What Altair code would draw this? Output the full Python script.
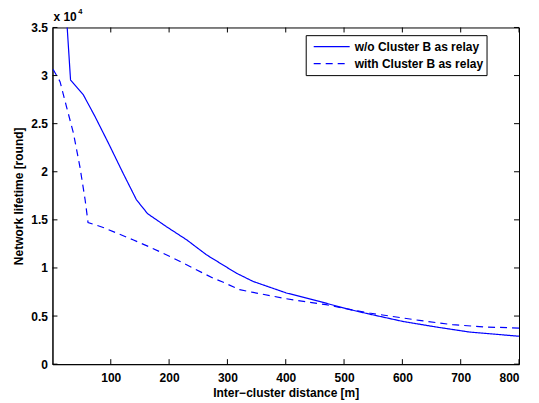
import altair as alt
import pandas as pd

# Series 1: w/o Cluster B as relay
x_solid = [20, 31, 53, 73, 96, 121, 144, 163, 195, 230, 264, 315, 344, 401, 458, 504, 543, 600, 658, 715, 800]
y_solid = [40000, 29550, 27990, 25740, 22970, 19860, 17090, 15650, 14310, 12930, 11370, 9470, 8600, 7400, 6520, 5760, 5210, 4450, 3860, 3340, 2900]

# Series 2: with Cluster B as relay
x_dash = [1, 13, 24, 36, 47, 56, 61, 87, 138, 167, 207, 275, 292, 321, 344, 401, 469, 504, 543, 629, 686, 743, 800]
y_dash = [30660, 29370, 26780, 24010, 20540, 17090, 14730, 14210, 12930, 12170, 11030, 8950, 8540, 7740, 7460, 6800, 6180, 5760, 5320, 4550, 4100, 3860, 3750]

names = ["w/o Cluster B as relay", "with Cluster B as relay"]
x_ticks = [100, 200, 300, 400, 500, 600, 700, 800]
y_ticks = [0, 5000, 10000, 15000, 20000, 25000, 30000, 35000]
exp_base = ["x 10"]
exp_power = ["4"]

W, H = 467, 337
FONT = "Liberation Sans"

rows = []
for i, (xx, yy) in enumerate(zip(x_solid, y_solid)):
    rows.append({"x": xx, "y": yy, "s": names[0], "o": i})
for i, (xx, yy) in enumerate(zip(x_dash, y_dash)):
    rows.append({"x": xx, "y": yy, "s": names[1], "o": i})
df = pd.DataFrame(rows)

xs = alt.Scale(domain=[0, 800], nice=False, zero=False)
ys = alt.Scale(domain=[0, 35000], nice=False)

leg = alt.Legend(title=None, orient="none", legendX=253.5, legendY=7.7)
lines = alt.Chart(df).mark_line(clip=True, strokeWidth=1.2).encode(
    x=alt.X("x:Q", scale=xs, axis=alt.Axis(values=x_ticks, ticks=False, grid=False,
                                           labelPadding=8, title="Inter\u2212cluster distance [m]",
                                           titlePadding=4)),
    y=alt.Y("y:Q", scale=ys, axis=alt.Axis(values=y_ticks, ticks=False, grid=False,
                                           labelExpr="datum.value / 10000", labelPadding=5,
                                           title="Network lifetime [round]", titlePadding=5)),
    color=alt.Color("s:N", scale=alt.Scale(domain=names, range=["#0000ff", "#0000ff"]), legend=leg),
    strokeDash=alt.StrokeDash("s:N", scale=alt.Scale(domain=names, range=[[1, 0], [7, 5]]), legend=leg),
    order="o:Q",
)

xt = pd.DataFrame({"x": x_ticks})
yt = pd.DataFrame({"y": y_ticks})
tick_b = alt.Chart(xt).mark_rule(color="black", strokeWidth=1).encode(
    x=alt.X("x:Q", scale=xs), y=alt.value(H), y2=alt.value(H - 5))
tick_t = alt.Chart(xt).mark_rule(color="black", strokeWidth=1).encode(
    x=alt.X("x:Q", scale=xs), y=alt.value(0), y2=alt.value(5))
tick_l = alt.Chart(yt).mark_rule(color="black", strokeWidth=1).encode(
    y=alt.Y("y:Q", scale=ys), x=alt.value(0), x2=alt.value(5))
tick_r = alt.Chart(yt).mark_rule(color="black", strokeWidth=1).encode(
    y=alt.Y("y:Q", scale=ys), x=alt.value(W), x2=alt.value(W - 5))

base_txt = alt.Chart(pd.DataFrame({"t": exp_base})).mark_text(
    font=FONT, fontSize=12, fontWeight="bold", color="black", align="left", baseline="alphabetic"
).encode(text="t:N", x=alt.value(1), y=alt.value(-6.6))
pow_txt = alt.Chart(pd.DataFrame({"t": exp_power})).mark_text(
    font=FONT, fontSize=7.5, fontWeight="bold", color="black", align="left", baseline="alphabetic"
).encode(text="t:N", x=alt.value(25.8), y=alt.value(-13.2))

chart = alt.layer(lines, tick_b, tick_t, tick_l, tick_r, base_txt, pow_txt).properties(
    width=W, height=H,
    autosize=alt.AutoSizeParams(type="none"),
    padding={"left": 44.5, "top": 19.3, "right": 12, "bottom": 40},
).configure_view(stroke="black", strokeWidth=1).configure_axis(
    domainColor="black", domainWidth=1, labelFont=FONT, labelFontSize=12, labelFontWeight="bold",
    labelColor="black", titleFont=FONT, titleFontSize=12, titleFontWeight="bold", titleColor="black",
).configure_legend(
    strokeColor="black", fillColor="white", padding=3, labelFont=FONT, labelFontSize=12,
    labelFontWeight="bold", labelColor="black", symbolType="stroke", symbolSize=1296,
    symbolStrokeWidth=1.2, symbolOffset=4, labelOffset=4, rowPadding=0, clipHeight=17,
    cornerRadius=0, strokeWidth=1,
)

chart.save("out.html", embed_options={"renderer": "svg", "actions": False})
